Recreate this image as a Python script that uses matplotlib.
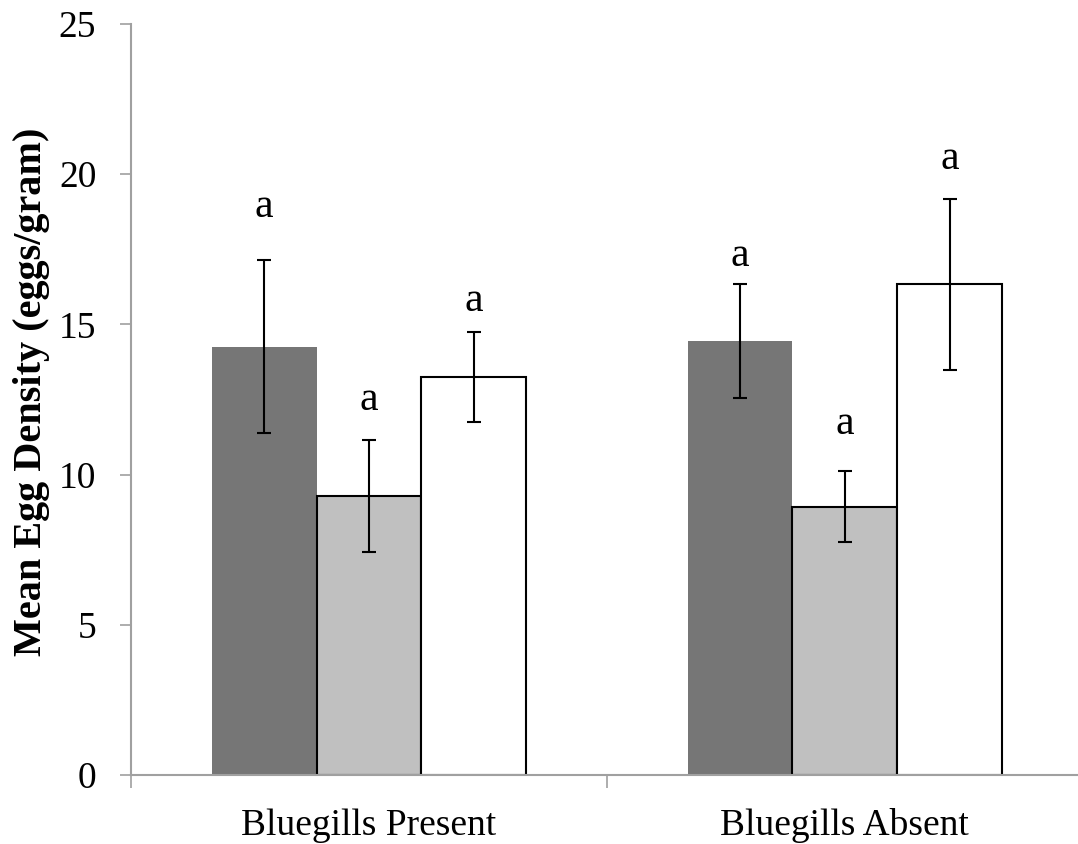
import numpy as np
import matplotlib.pyplot as plt

groups = ["Bluegills Present", "Bluegills Absent"]
means_dark = [14.25, 14.45]
means_light = [9.30, 8.93]
means_white = [13.26, 16.33]
err_dark = [2.88, 1.90]
err_light = [1.86, 1.18]
err_white = [1.50, 2.86]
# heights of the significance letters (dark, light, white per group)
letter_y_dark = [18.9, 17.3]
letter_y_light = [12.5, 11.7]
letter_y_white = [15.8, 20.5]

plt.rcParams['font.family'] = ['Liberation Serif', 'DejaVu Serif']

fig = plt.figure(figsize=(10.78, 8.44), dpi=100)
ax = fig.add_axes([131 / 1078, 69 / 844, 1 - 131 / 1078, 751 / 844])

x = np.arange(len(groups))
w = 0.22
series = [
    (means_dark, err_dark, letter_y_dark, "#767676", "none", -w),
    (means_light, err_light, letter_y_light, "#c0c0c0", "black", 0.0),
    (means_white, err_white, letter_y_white, "white", "black", w),
]
for vals, errs, ly, fc, ec, off in series:
    ax.bar(x + off, vals, width=w, color=fc, edgecolor=ec, linewidth=1.5 if ec != "none" else 0, zorder=2)
    ax.errorbar(x + off, vals, yerr=errs, fmt="none", ecolor="black", elinewidth=1.5,
                capsize=5, capthick=1.5, zorder=3)
    for xi, yi in zip(x + off, ly):
        ax.text(xi, yi, "a", ha="center", va="center", fontsize=30)

ax.set_xlim(-0.5, 1.49)
ax.set_ylim(0, 25)
ax.set_yticks([0, 5, 10, 15, 20, 25])
ax.set_xticks(x)
ax.set_xticklabels(groups, fontsize=27)
ax.set_xticks([-0.5, 0.5], minor=True)
ax.tick_params(axis="x", which="major", length=0, pad=24)
ax.tick_params(axis="x", which="minor", length=9, width=1.2, color="#a0a0a0")
ax.tick_params(axis="y", labelsize=27, length=8, width=1.2, color="#a0a0a0", pad=17)
ax.set_ylabel("Mean Egg Density (eggs/gram)", fontsize=29, fontweight="bold")
ax.yaxis.set_label_coords(-0.086, 0.51)

for s in ["top", "right"]:
    ax.spines[s].set_visible(False)
for s in ["left", "bottom"]:
    ax.spines[s].set_color("#a0a0a0")
    ax.spines[s].set_linewidth(1.5)

fig.savefig("out.png", dpi=100)
